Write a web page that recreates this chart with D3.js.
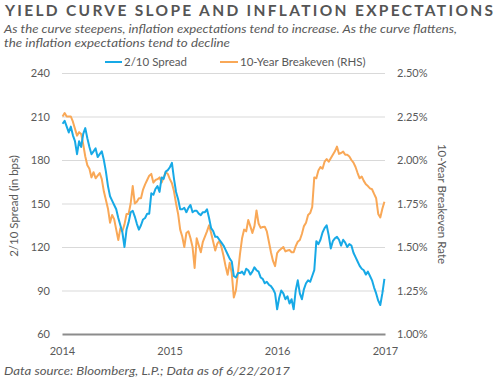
<!DOCTYPE html>
<html>
<head>
<meta charset="utf-8">
<script src="https://cdn.jsdelivr.net/npm/d3@7/dist/d3.min.js"></script>
<style>
  html, body { margin: 0; padding: 0; background: #ffffff; }
  svg { display: block; font-family: Lato, "Open Sans", sans-serif; }
</style>
</head>
<body>
<svg id="chart" width="500" height="383"></svg>
<script>
// ---- Data (weekly observations, first on 2014-01-03) ----
const startDate = "2014-01-03";
const spread = [205,207,203,199,203,197,193,184,193,189,198,202,195,189,184,186,188,182,184,186,
  180,172,162,155,152,149,146,140,135,130,120,132,137,144,145,141,136,132,135,139,
  140,143,143,157,156,160,162,158,168,167,172,173,175,178,167,158,153,146,146,147,
  144,147,149,144,145,145,143,142,144,144,146,140,133,131,127,127,125,123,121,118,
  115,112,110,100,99,102,102,103,101,105,104,101,103,106,104,103,99,98,95,96,
  94,93,91,88,77,85,90,88,84,86,81,84,77,90,97,88,84,91,95,97,
  96,100,104,124,122,125,130,133,135,128,119,124,126,127,125,121,125,123,120,122,
  121,116,113,110,107,105,104,101,103,100,97,92,88,83,80,88,98];
const breakeven = [2.25,2.27,2.25,2.25,2.25,2.22,2.18,2.14,2.16,2.15,2.09,2.02,1.97,1.95,1.90,1.93,1.895,1.91,1.925,1.89,
  1.82,1.77,1.72,1.64,1.684,1.66,1.60,1.54,1.607,1.59,1.63,1.69,1.69,1.75,1.85,1.75,1.76,1.78,1.78,1.83,
  1.86,1.885,1.91,1.92,1.87,1.885,1.89,1.90,1.87,1.90,1.93,1.92,1.89,1.866,1.82,1.75,1.69,1.60,1.56,1.50,
  1.58,1.59,1.55,1.50,1.38,1.55,1.51,1.47,1.53,1.56,1.59,1.625,1.58,1.53,1.48,1.52,1.535,1.50,1.45,1.39,
  1.34,1.41,1.35,1.21,1.25,1.35,1.46,1.55,1.60,1.59,1.655,1.62,1.58,1.62,1.71,1.635,1.61,1.615,1.617,1.59,
  1.53,1.47,1.42,1.39,1.465,1.48,1.49,1.50,1.475,1.48,1.483,1.47,1.47,1.505,1.53,1.54,1.575,1.62,1.64,1.684,
  1.695,1.73,1.90,1.895,1.94,1.96,1.95,1.99,2.005,1.99,2.01,2.03,2.05,2.077,2.035,2.04,2.048,2.03,2.03,2.02,
  2.00,1.985,1.96,1.925,1.895,1.905,1.88,1.86,1.85,1.837,1.832,1.805,1.78,1.69,1.67,1.72,1.76];
const leftTicks = [60, 90, 120, 150, 180, 210, 240];
const rightTicks = [1.00, 1.25, 1.50, 1.75, 2.00, 2.25, 2.50];
const xTickYears = [2014, 2015, 2016, 2017];
const seriesNames = ["2/10 Spread", "10-Year Breakeven (RHS)"];
const titleText = "YIELD CURVE SLOPE AND INFLATION EXPECTATIONS";
const subtitleLines = ["As the curve steepens, inflation expectations tend to increase. As the curve flattens,",
                       "the inflation expectations tend to decline"];
const footerText = "Data source: Bloomberg, L.P.; Data as of 6/22/2017";
const leftTitle = "2/10 Spread (in bps)";
const rightTitle = "10-Year Breakeven Rate";

// ---- Drawing ----
const svg = d3.select("#chart");
const blue = "#17a9e6", orange = "#f9a857", textCol = "#595959";
const plot = { left: 62, right: 385, top: 73, bottom: 334 };

const start = d3.timeParse("%Y-%m-%d")(startDate);
const dates = spread.map((_, i) => d3.timeWeek.offset(start, i));

const x = d3.scaleTime()
  .domain([new Date(xTickYears[0], 0, 1), new Date(xTickYears[xTickYears.length - 1], 0, 1)])
  .range([plot.left, plot.right]);
const yL = d3.scaleLinear().domain([60, 240]).range([plot.bottom, plot.top]);
const yR = d3.scaleLinear().domain([1.0, 2.5]).range([plot.bottom, plot.top]);

// gridlines
svg.append("g")
  .attr("transform", `translate(${plot.left},0)`)
  .call(d3.axisLeft(yL).tickValues(leftTicks.filter(t => t !== 60)).tickSize(-(plot.right - plot.left)).tickFormat(""))
  .call(g => g.select(".domain").remove())
  .call(g => g.selectAll("line").attr("stroke", "#d9d9d9").attr("stroke-width", 1));

// left axis labels
svg.append("g")
  .attr("transform", `translate(${plot.left},0)`)
  .call(d3.axisLeft(yL).tickValues(leftTicks).tickSize(0).tickPadding(12).tickFormat(d3.format("d")))
  .call(g => g.select(".domain").remove())
  .call(g => g.selectAll("text").attr("fill", textCol).attr("font-size", "11px").attr("font-family", "Lato, sans-serif"));

// right axis labels
const pctFmt = d3.format(".2f");
svg.append("g")
  .attr("transform", `translate(${plot.right},0)`)
  .call(d3.axisRight(yR).tickValues(rightTicks).tickSize(0).tickPadding(12).tickFormat(d => pctFmt(d) + "%"))
  .call(g => g.select(".domain").remove())
  .call(g => g.selectAll("text").attr("fill", textCol).attr("font-size", "11px").attr("font-family", "Lato, sans-serif"));

// bottom axis
svg.append("g")
  .attr("transform", `translate(0,${plot.bottom})`)
  .call(d3.axisBottom(x).tickValues(xTickYears.map(y => new Date(y, 0, 1))).tickSize(0).tickPadding(13).tickFormat(d3.timeFormat("%Y")))
  .call(g => g.select(".domain").attr("stroke", "#8c8c8c").attr("stroke-width", 2))
  .call(g => g.selectAll("text").attr("fill", textCol).attr("font-size", "11px").attr("font-family", "Lato, sans-serif"));

// lines
const lineL = d3.line().x((d, i) => x(dates[i])).y(d => yL(d));
const lineR = d3.line().x((d, i) => x(dates[i])).y(d => yR(d));
svg.append("path").datum(breakeven).attr("d", lineR)
  .attr("fill", "none").attr("stroke", orange).attr("stroke-width", 2).attr("stroke-linejoin", "round");
svg.append("path").datum(spread).attr("d", lineL)
  .attr("fill", "none").attr("stroke", blue).attr("stroke-width", 2).attr("stroke-linejoin", "round");

// title
svg.append("text").attr("x", 5).attr("y", 16)
  .attr("font-size", "15.5px").attr("font-weight", 700).attr("fill", "#555555")
  .attr("textLength", 488).attr("lengthAdjust", "spacing")
  .text(titleText);

// subtitle
const subWidths = [453, 226];
subtitleLines.forEach((t, i) => {
  svg.append("text").attr("x", 4).attr("y", 33 + i * 13.5)
    .attr("font-size", "12px").attr("font-style", "italic").attr("fill", textCol)
    .attr("textLength", subWidths[i]).attr("lengthAdjust", "spacingAndGlyphs")
    .text(t);
});

// legend
const legend = [
  { name: seriesNames[0], color: blue, x1: 105, x2: 122 },
  { name: seriesNames[1], color: orange, x1: 220, x2: 238 }
];
legend.forEach(l => {
  svg.append("line").attr("x1", l.x1).attr("x2", l.x2).attr("y1", 62).attr("y2", 62)
    .attr("stroke", l.color).attr("stroke-width", 2);
  svg.append("text").attr("x", l.x2 + 2).attr("y", 66).attr("font-size", "11.5px").attr("fill", textCol).text(l.name);
});

// axis titles
svg.append("text").attr("transform", "translate(18,206) rotate(-90)")
  .attr("text-anchor", "middle").attr("font-size", "11.5px").attr("fill", textCol).text(leftTitle);
svg.append("text").attr("transform", "translate(438,204) rotate(90)")
  .attr("text-anchor", "middle").attr("font-size", "11.5px").attr("fill", textCol).text(rightTitle);

// footer
svg.append("text").attr("x", 4).attr("y", 375)
  .attr("font-size", "12px").attr("font-style", "italic").attr("fill", textCol)
  .attr("textLength", 286).attr("lengthAdjust", "spacingAndGlyphs")
  .text(footerText);
</script>
</body>
</html>
